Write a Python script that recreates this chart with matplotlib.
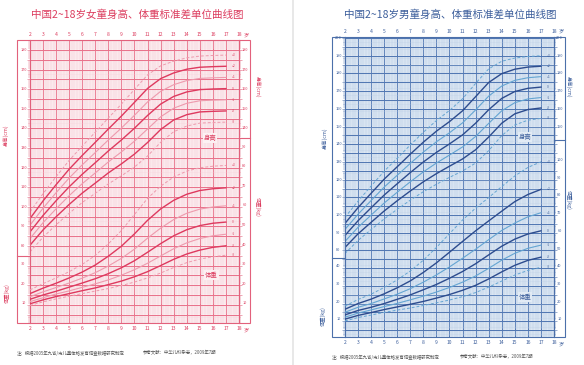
import numpy as np
import matplotlib
matplotlib.use('Agg')
import matplotlib.pyplot as plt
from matplotlib.patches import Rectangle
from matplotlib.transforms import blended_transform_factory

plt.rcParams['font.family'] = ['Noto Sans CJK SC', 'DejaVu Sans']

# ---- data, ages 2..17 ----
ages = list(range(2, 18))
sd_labels = ['+3', '+2', '+1', '0', '-1', '-2', '-3']

# girls height (cm)
g_h_p3 = [97.4, 106.7, 115.4, 123.7, 131.0, 138.1, 145.3, 152.4, 159.9, 167.3, 171.9, 174.3, 176.0, 176.9, 177.2, 177.4]
g_h_p2 = [94.0, 103.0, 111.3, 119.2, 126.2, 132.9, 139.7, 146.3, 153.3, 160.4, 165.4, 168.3, 170.2, 171.2, 171.5, 171.7]
g_h_p1 = [90.6, 99.3, 107.2, 114.7, 121.4, 127.7, 134.1, 140.2, 146.7, 153.5, 158.9, 162.3, 164.4, 165.5, 165.8, 166.0]
g_h_0 = [87.2, 95.6, 103.1, 110.2, 116.6, 122.5, 128.5, 134.1, 140.1, 146.6, 152.4, 156.3, 158.6, 159.8, 160.1, 160.3]
g_h_m1 = [83.8, 91.9, 99.0, 105.7, 111.8, 117.3, 122.9, 128.0, 133.5, 139.7, 145.9, 150.3, 152.8, 154.1, 154.4, 154.6]
g_h_m2 = [80.4, 88.2, 94.9, 101.2, 107.0, 112.1, 117.3, 121.9, 126.9, 132.8, 139.4, 144.3, 147.0, 148.4, 148.7, 148.9]
g_h_m3 = [77.0, 84.5, 90.8, 96.7, 102.2, 106.9, 111.7, 115.8, 120.3, 125.9, 132.9, 138.3, 141.2, 142.7, 143.0, 143.2]

# girls weight (kg)
g_w_p3 = [16.9, 20.1, 23.0, 26.2, 29.9, 34.5, 40.4, 47.2, 55.4, 63.6, 69.8, 74.5, 77.5, 79.2, 80.0, 80.4]
g_w_p2 = [15.0, 17.8, 20.3, 23.0, 26.0, 29.6, 34.1, 39.2, 45.5, 52.4, 58.2, 62.6, 65.7, 67.6, 68.5, 69.0]
g_w_p1 = [13.4, 15.9, 18.1, 20.4, 22.9, 25.7, 29.1, 33.0, 37.7, 43.3, 48.4, 52.8, 56.0, 58.1, 59.2, 59.8]
g_w_0 = [12.1, 14.3, 16.2, 18.3, 20.4, 22.6, 25.2, 28.2, 31.8, 36.1, 40.5, 44.5, 47.6, 49.7, 50.9, 51.5]
g_w_m1 = [10.9, 12.9, 14.8, 16.4, 18.2, 20.0, 22.0, 24.4, 27.2, 30.5, 34.2, 37.9, 40.9, 43.1, 44.5, 45.3]
g_w_m2 = [9.8, 11.8, 13.5, 15.0, 16.5, 17.9, 19.6, 21.4, 23.6, 26.2, 29.3, 32.5, 35.2, 37.2, 38.6, 39.4]
g_w_m3 = [9.0, 10.8, 12.3, 13.7, 15.0, 16.3, 17.6, 19.1, 20.9, 23.0, 25.5, 28.3, 30.8, 32.6, 33.8, 34.6]

# boys height (cm)
b_h_p3 = [98.7, 107.9, 116.4, 124.8, 132.1, 139.6, 146.8, 153.4, 159.1, 165.7, 174.4, 182.6, 186.9, 188.7, 189.6, 190.0]
b_h_p2 = [95.3, 104.2, 112.3, 120.3, 127.3, 134.4, 141.2, 147.4, 152.8, 158.9, 166.9, 174.9, 179.9, 182.4, 183.6, 184.1]
b_h_p1 = [91.9, 100.5, 108.2, 115.8, 122.5, 129.2, 135.6, 141.4, 146.5, 152.1, 159.4, 167.2, 172.9, 176.1, 177.6, 178.2]
b_h_0 = [88.5, 96.8, 104.1, 111.3, 117.7, 124.0, 130.0, 135.4, 140.2, 145.3, 151.9, 159.5, 165.9, 169.8, 171.6, 172.3]
b_h_m1 = [85.1, 93.1, 100.0, 106.8, 112.9, 118.8, 124.4, 129.4, 133.9, 138.5, 144.4, 151.8, 158.9, 163.5, 165.6, 166.4]
b_h_m2 = [81.7, 89.4, 95.9, 102.3, 108.1, 113.6, 118.8, 123.4, 127.6, 131.7, 136.9, 144.1, 151.9, 157.2, 159.6, 160.5]
b_h_m3 = [78.3, 85.7, 91.8, 97.8, 103.3, 108.4, 113.2, 117.4, 121.3, 124.9, 129.4, 136.4, 144.9, 150.9, 153.6, 154.6]

# boys weight (kg)
b_w_p3 = [17.5, 21.2, 24.2, 28.0, 32.3, 37.3, 43.4, 50.6, 58.4, 66.1, 72.8, 78.8, 85.0, 91.0, 95.8, 99.0]
b_w_p2 = [15.7, 18.9, 21.4, 24.4, 27.8, 31.7, 36.5, 41.9, 47.9, 54.0, 60.0, 65.6, 71.1, 76.5, 80.5, 83.4]
b_w_p1 = [14.0, 16.8, 18.9, 21.5, 24.2, 27.3, 31.0, 35.1, 39.6, 44.5, 49.6, 55.0, 60.2, 64.4, 67.9, 70.2]
b_w_0 = [12.5, 15.0, 16.8, 18.9, 21.3, 23.8, 26.7, 29.7, 33.2, 37.0, 41.4, 46.4, 51.3, 55.3, 58.2, 60.0]
b_w_m1 = [11.2, 13.5, 15.3, 17.2, 19.0, 21.0, 23.1, 25.4, 28.0, 31.0, 34.5, 38.8, 43.4, 47.3, 50.1, 51.9]
b_w_m2 = [10.1, 12.2, 13.8, 15.5, 17.0, 18.5, 20.1, 22.0, 24.0, 26.4, 29.2, 32.8, 36.8, 40.5, 43.3, 45.1]
b_w_m3 = [9.1, 11.0, 12.4, 13.9, 15.2, 16.4, 17.8, 19.3, 20.9, 22.8, 25.1, 28.2, 31.6, 35.0, 37.6, 39.4]

W, H = 584, 365
fig = plt.figure(figsize=(W / 100, H / 100), dpi=100)
fig.patch.set_facecolor('white')


def px_axes(x0, y0, x1, y1):
    return fig.add_axes([x0 / W, 1 - y1 / H, (x1 - x0) / W, (y1 - y0) / H])


def panel(box, hlim, wlim, heights, weights, title, title_x, cols, lab_left_h, lab_left_w,
          lab_right_h, lab_right_w, split_right, split_left, txt_h, txt_w, bg):
    x0, y0, x1, y1 = box
    frame, major, minor, dark, light, text = cols
    ax = px_axes(x0, y0, x1, y1)
    ax.set_facecolor(bg)
    ax.set_xlim(2, 18)
    ax.set_ylim(*hlim)
    axw = ax.twinx()
    axw.set_ylim(*wlim)
    axw.axis('off')

    ax.set_xticks(np.arange(2, 19, 1))
    ax.set_xticks(np.arange(2, 18.01, 0.2), minor=True)
    ax.set_yticks(np.arange(np.ceil(hlim[0] / 5) * 5, hlim[1], 5))
    ax.set_yticks(np.arange(np.ceil(hlim[0]), hlim[1], 1), minor=True)
    ax.grid(which='minor', color=minor, lw=0.3)
    ax.grid(which='major', color=major, lw=0.75)
    ax.set_axisbelow(True)
    ax.tick_params(axis='x', which='both', length=0, labeltop=True, labelbottom=True,
                   labelsize=3.6, pad=2, labelcolor=text)
    ax.tick_params(axis='y', which='major', direction='out', length=2.5, width=0.4,
                   left=True, right=True, labelleft=False, color=frame)
    ax.tick_params(axis='y', which='minor', direction='out', length=1.2, width=0.3,
                   left=True, right=True, color=frame)
    for s in ax.spines.values():
        s.set_color(frame)
        s.set_linewidth(0.8)

    # label columns left / right of the grid
    wpx = x1 - x0
    lw_ = 13 / wpx
    rw_ = 11 / wpx
    for xa, wa in [(-lw_, lw_), (1, rw_)]:
        ax.add_patch(Rectangle((xa, 0), wa, 1, transform=ax.transAxes, fill=False,
                               ec=frame, lw=0.8, clip_on=False))
    hh = (y1 - y0)
    ax.plot([1, 1 + rw_], [1 - (split_right - y0) / hh] * 2, transform=ax.transAxes,
            color=frame, lw=0.8, clip_on=False)
    ax.plot([-lw_, 0], [1 - (split_left - y0) / hh] * 2, transform=ax.transAxes,
            color=frame, lw=0.8, clip_on=False)

    th = blended_transform_factory(ax.transAxes, ax.transData)
    tw = blended_transform_factory(ax.transAxes, axw.transData)
    for v in lab_left_h:
        ax.text(-lw_ / 2, v, str(v), transform=th, fontsize=2.8, color=text, ha='center', va='center')
    for v in lab_left_w:
        ax.text(-lw_ / 2, v, str(v), transform=tw, fontsize=2.8, color=text, ha='center', va='center')
    for v in lab_right_h:
        ax.text(1 + rw_ / 2, v, str(v), transform=th, fontsize=2.8, color=text, ha='center', va='center')
    for v in lab_right_w:
        ax.text(1 + rw_ / 2, v, str(v), transform=tw, fontsize=2.8, color=text, ha='center', va='center')
    ax.text(18.55, hlim[0] - (hlim[1] - hlim[0]) * 0.024, '岁', fontsize=3.8, color=text,
            ha='center', va='center', clip_on=False)
    ax.text(18.55, hlim[1] + (hlim[1] - hlim[0]) * 0.019, '岁', fontsize=3.8, color=text,
            ha='center', va='center', clip_on=False)

    # curves
    for i, (hs, ws) in enumerate(zip(heights, weights)):
        if i in (0, 6):
            kw = dict(color=light, lw=0.7, ls=(0, (3, 2)))
        elif i % 2 == 1:
            kw = dict(color=dark, lw=1.0)
        else:
            kw = dict(color=light, lw=0.8)
        ax.plot(ages, hs, **kw)
        axw.plot(ages, ws, **kw)
        ax.text(17.45, hs[-1], sd_labels[i], fontsize=2.4, color=text, va='center')
        axw.text(17.45, ws[-1], sd_labels[i], fontsize=2.4, color=text, va='center')

    ax.text(txt_h[0], txt_h[1], '身高', fontsize=4.6, color=text, ha='center', va='center',
            bbox=dict(fc=bg, ec='none', pad=0.5))
    axw.text(txt_w[0], txt_w[1], '体重', fontsize=4.6, color=text, ha='center', va='center',
             bbox=dict(fc=bg, ec='none', pad=0.5))

    fig.text(title_x / W, 1 - 15 / H, title, fontsize=7.6, color=text, ha='center', va='center')
    return ax


girl_cols = ('#e2617c', '#e9738c', '#f6cbd4', '#de3a5f', '#ee9aad', '#dc3d5f')
boy_cols = ('#4c70aa', '#5278b3', '#b6cae4', '#2d4c8e', '#64a5d2', '#3d5f9c')

panel((30, 40, 239, 323), (40.7, 185.1), (0, 144.4),
      [g_h_p3, g_h_p2, g_h_p1, g_h_0, g_h_m1, g_h_m2, g_h_m3],
      [g_w_p3, g_w_p2, g_w_p1, g_w_0, g_w_m1, g_w_m2, g_w_m3],
      '中国2~18岁女童身高、体重标准差单位曲线图', 137, girl_cols,
      list(range(180, 79, -10)), [30, 20, 10],
      list(range(180, 139, -10)), list(range(90, 9, -10)),
      138, 256, (15.8, 135), (15.9, 24.5), '#fdf1f3')

panel((345, 37, 554, 337), (31.1, 200.6), (0, 169.5),
      [b_h_p3, b_h_p2, b_h_p1, b_h_0, b_h_m1, b_h_m2, b_h_m3],
      [b_w_p3, b_w_p2, b_w_p1, b_w_0, b_w_m1, b_w_m2, b_w_m3],
      '中国2~18岁男童身高、体重标准差单位曲线图', 450, boy_cols,
      list(range(200, 79, -10)), [40, 30, 20, 10],
      list(range(200, 149, -10)), list(range(100, 9, -10)),
      140, 258, (15.8, 144), (15.8, 22.6), '#e2ebf5')

# axis titles outside the frames
g_txt = girl_cols[5]
b_txt = boy_cols[5]
for x, y, s, r, c in [(6, 135, '身高(cm)', 90, g_txt), (7, 293, '体重(kg)', 90, g_txt),
                      (258, 87, '身高(cm)', 270, g_txt), (258, 207, '体重(kg)', 270, g_txt),
                      (325, 138, '身高(cm)', 90, b_txt), (323, 316, '体重(kg)', 90, b_txt),
                      (569, 87, '身高(cm)', 270, b_txt), (569, 200, '体重(kg)', 270, b_txt)]:
    fig.text(x / W, 1 - y / H, s, fontsize=3.8, color=c, rotation=r, ha='center', va='center')

# footnotes
for x, y, s in [(17, 353, '注：根据2005年九省/市儿童体格发育调查数据研究制定'),
                (143, 353, '参考文献：中华儿科杂志，2009年7期'),
                (332, 357, '注：根据2005年九省/市儿童体格发育调查数据研究制定'),
                (460, 357, '参考文献：中华儿科杂志，2009年7期')]:
    fig.text(x / W, 1 - y / H, s, fontsize=3.2, color='#555555', ha='left', va='center')

# faint page seam between the two scans
fig.add_artist(plt.Line2D([293 / W, 293 / W], [0, 1], color='#e4e4e4', lw=1.2))

fig.savefig('out.png', dpi=100)
